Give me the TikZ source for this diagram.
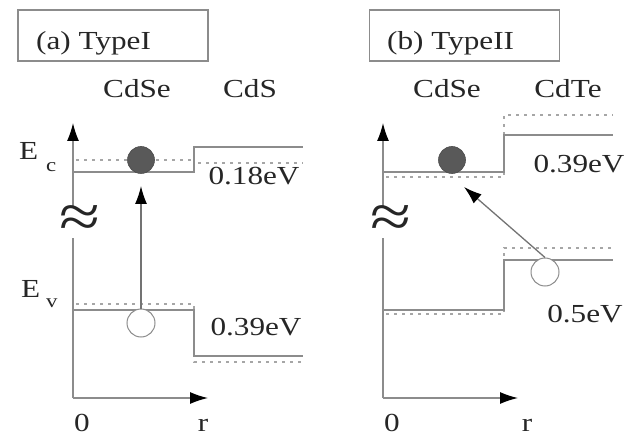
\documentclass[tikz,border=0pt]{standalone}
\usepackage{fontspec}
\setmainfont{Liberation Serif}[FakeStretch=1.2]
\usetikzlibrary{arrows.meta}
\begin{document}
\begin{tikzpicture}[x=1pt,y=-1pt,
  band/.style={draw=black!45,line width=1.3pt},
  dband/.style={draw=black!35,line width=1.1pt,dash pattern=on 3pt off 5pt},
  axis/.style={draw=black!45,line width=1.3pt,-{Latex[length=18pt,width=12pt,color=black,fill=black]}},
  trans/.style={draw=black!55,line width=1.3pt,-{Latex[length=18pt,width=12pt,color=black,fill=black]}},
  lbl/.style={font=\fontsize{26}{28}\selectfont,inner sep=0pt,anchor=base,text=black!85},
  sub/.style={font=\fontsize{19}{21}\selectfont,inner sep=0pt,anchor=base west,text=black!85},
  title/.style={draw=black!45,line width=1.2pt,minimum width=190pt,minimum height=51pt,inner sep=0pt},
  elec/.style={circle,fill=black!65,draw=black!70,line width=0.6pt,minimum size=27pt,inner sep=0pt},
  hole/.style={circle,fill=white,draw=black!45,line width=1pt,minimum size=28pt,inner sep=0pt},
  brk/.style={font=\fontsize{62}{62}\selectfont,inner sep=0pt,fill=white,text=black!85}]
\useasboundingbox (0,0) rectangle (626,438);
% ---------------- panel (a)
\node[title] (ta) at (113,35.5) {};
\node[lbl,anchor=base west] (tatext) at (36,50) {(a) TypeI};
\node[lbl] (cdsea) at (137,98) {CdSe};
\node[lbl] (cds) at (250,98) {CdS};
\coordinate (oa) at (73,398);
\coordinate (ya) at (73,123);
\coordinate (xa) at (208,398);
\draw[axis] (oa) -- (ya);
\draw[axis] (oa) -- (xa);
\node[brk] (ba) at (80,222) {≈};
\node[lbl,anchor=base west] (eca) at (19,160) {E};
\node[sub] (ecs) at (46,172) {c};
\node[lbl,anchor=base west] (eva) at (21,297) {E};
\node[sub] (evs) at (46,307) {v};
% conduction band
\draw[dband] (76,160) -- (194,160);
\draw[dband] (198,163) -- (303,163);
\draw[band] (73,172) -- (194,172) -- (194,147) -- (303,147);
% valence band
\draw[dband] (76,304) -- (194,304) -- (194,362) -- (303,362);
\draw[band] (73,310) -- (194,310) -- (194,356) -- (303,356);
\node[lbl] (ea) at (254,185) {0.18eV};
\node[lbl] (ha) at (256,335) {0.39eV};
\node[elec] (e1) at (141,160) {};
\node[hole] (h1) at (141,323) {};
\draw[trans] (h1.north) -- (141,186);
\node[lbl] (za) at (82,431) {0};
\node[lbl] (ra) at (203,431) {r};
% ---------------- panel (b)
\node[title] (tb) at (464.5,35.5) {};
\node[lbl,anchor=base west] (tbtext) at (387,50) {(b) TypeII};
\node[lbl] (cdseb) at (447,98) {CdSe};
\node[lbl] (cdte) at (568,98) {CdTe};
\coordinate (ob) at (383,398);
\coordinate (yb) at (383,123);
\coordinate (xb) at (518,398);
\draw[axis] (ob) -- (yb);
\draw[axis] (ob) -- (xb);
\node[brk] (bb) at (391,222) {≈};
% conduction band
\draw[dband] (386,177) -- (504,177) -- (504,115) -- (613,115);
\draw[band] (383,172) -- (504,172) -- (504,135) -- (613,135);
% valence band
\draw[dband] (386,314) -- (504,314) -- (504,248) -- (613,248);
\draw[band] (383,310) -- (504,310) -- (504,260) -- (613,260);
\node[lbl] (eb) at (579,173) {0.39eV};
\node[lbl] (hb) at (585,322) {0.5eV};
\node[elec] (e2) at (452,160) {};
\node[hole] (h2) at (545,272) {};
\coordinate (tipb) at (464,187);
\draw[trans] (h2.north) -- (tipb);
\node[lbl] (zb) at (392,431) {0};
\node[lbl] (rb) at (527,431) {r};
\end{tikzpicture}
\end{document}
